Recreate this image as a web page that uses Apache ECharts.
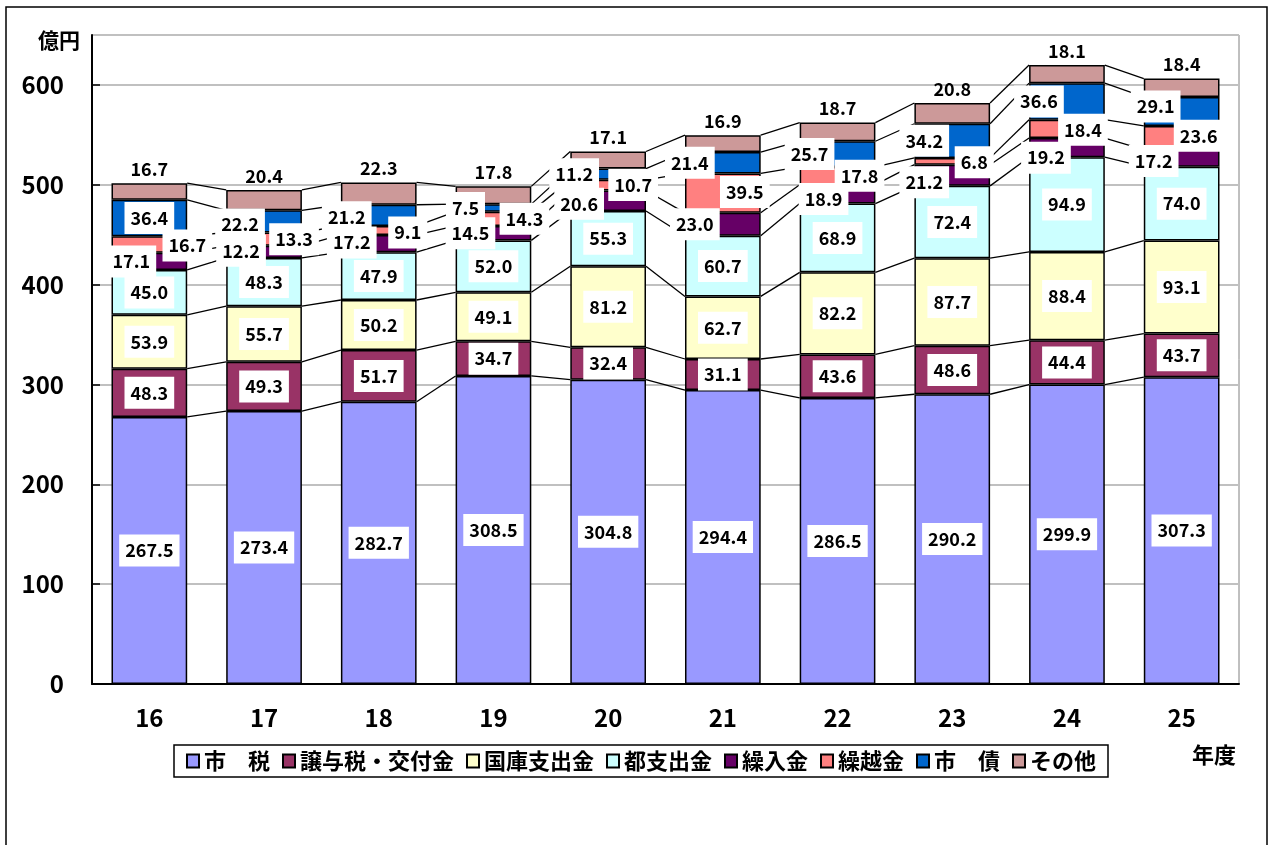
<!DOCTYPE html>
<html>
<head>
<meta charset="utf-8">
<script src="https://cdn.jsdelivr.net/npm/echarts@6/dist/echarts.min.js"></script>
<style>
  html, body { margin: 0; padding: 0; background: #fff; }
  #chart { width: 1269px; height: 845px; }
</style>
</head>
<body>
<div id="chart"></div>
<script>
const years = ['16', '17', '18', '19', '20', '21', '22', '23', '24', '25'];
const seriesNames = ['市　税', '譲与税・交付金', '国庫支出金', '都支出金', '繰入金', '繰越金', '市　債', 'その他'];

const cityTax = [267.5, 273.4, 282.7, 308.5, 304.8, 294.4, 286.5, 290.2, 299.9, 307.3];
const grants = [48.3, 49.3, 51.7, 34.7, 32.4, 31.1, 43.6, 48.6, 44.4, 43.7];
const national = [53.9, 55.7, 50.2, 49.1, 81.2, 62.7, 82.2, 87.7, 88.4, 93.1];
const metro = [45.0, 48.3, 47.9, 52.0, 55.3, 60.7, 68.9, 72.4, 94.9, 74.0];
const transfer = [17.1, 12.2, 17.2, 14.5, 20.6, 23.0, 18.9, 21.2, 19.2, 17.2];
const carryOver = [16.7, 13.3, 9.1, 14.3, 10.7, 39.5, 17.8, 6.8, 18.4, 23.6];
const bonds = [36.4, 22.2, 21.2, 7.5, 11.2, 21.4, 25.7, 34.2, 36.6, 29.1];
const others = [16.7, 20.4, 22.3, 17.8, 17.1, 16.9, 18.7, 20.8, 18.1, 18.4];

const yTicks = { min: 0, max: 650, interval: 100 };

// label shifts (px) for the thin segments, moved beside the bars
const transferShift = [[-18, 0], [-23, -1], [-27, -1], [-23, 0], [-29, 3], [-28, 0], [-14, 5], [-28, 7], [-21, 10], [-28, 3]];
const carryShift = [[38, 1], [30, 0], [29, 2], [31, 0], [25, 0], [22, -1], [22, 0], [22, 1], [16, 1], [17, -2]];
const bondShift = [[0, 0], [-24, 3], [-32, 2], [-28, 0], [-34, 0], [-33, 0], [-28, 0], [-28, 0], [-28, 0], [-26, -5]];

const colors = ['#9999FF', '#993366', '#FFFFCC', '#CCFFFF', '#660066', '#FF8080', '#0066CC', '#CC9999'];
const FONT = '"Noto Sans CJK JP", "Noto Sans", sans-serif';

const values = [cityTax, grants, national, metro, transfer, carryOver, bonds, others];
const shifts = [null, null, null, null, transferShift, carryShift, bondShift, null];

// cumulative tops for the series lines between bars
const cum = years.map((y, i) => {
  let s = 0;
  return values.map(arr => (s += arr[i]));
});
const seriesLineData = [];
for (let i = 0; i < years.length - 1; i++) {
  for (let k = 0; k < values.length; k++) {
    seriesLineData.push([i, cum[i][k], cum[i + 1][k]]);
  }
}

const labelBase = {
  show: true,
  color: '#000',
  fontFamily: FONT,
  fontSize: 18,
  fontWeight: 'bold',
  formatter: p => Number(p.value).toFixed(1)
};

const barSeries = values.map((arr, k) => {
  const isTop = k === values.length - 1;
  return {
    name: seriesNames[k],
    type: 'bar',
    stack: 'total',
    barWidth: '66%',
    itemStyle: { color: colors[k], borderColor: '#000', borderWidth: 1.5 },
    label: isTop
      ? Object.assign({}, labelBase, { position: 'top', distance: 5 })
      : Object.assign({}, labelBase, { position: 'inside', backgroundColor: '#fff', padding: [7, 6] }),
    data: arr.map((v, i) => shifts[k] ? { value: v, label: { offset: shifts[k][i] } } : v),
    z: 3
  };
});

const myChart = echarts.init(document.getElementById('chart'));

const option = {
  animation: false,
  backgroundColor: '#fff',
  graphic: [
    {
      type: 'rect',
      shape: { x: 6, y: 7, width: 1261, height: 1000 },
      style: { fill: 'none', stroke: '#000', lineWidth: 1.5 },
      z: -1
    },
    {
      type: 'text',
      left: 38,
      top: 30,
      style: { text: '億円', fontFamily: FONT, fontSize: 21, fontWeight: 'bold', fill: '#000' }
    },
    {
      type: 'text',
      left: 1192,
      top: 744,
      style: { text: '年度', fontFamily: FONT, fontSize: 22, fontWeight: 'bold', fill: '#000' }
    }
  ],
  legend: {
    data: seriesNames,
    left: 174,
    top: 745,
    padding: [5, 12],
    itemGap: 12,
    itemWidth: 12,
    itemHeight: 13,
    icon: 'rect',
    borderColor: '#000',
    borderWidth: 1.5,
    backgroundColor: '#fff',
    textStyle: { fontFamily: FONT, fontSize: 22, fontWeight: 'bold', color: '#000' }
  },
  grid: {
    left: 92,
    right: 30,
    top: 35,
    bottom: 161,
    show: true,
    borderColor: '#808080',
    borderWidth: 1
  },
  xAxis: {
    type: 'category',
    data: years,
    axisLine: { lineStyle: { color: '#000', width: 2 } },
    axisTick: { inside: true, length: 5, lineStyle: { color: '#000', width: 1.5 } },
    axisLabel: { margin: 22, color: '#000', fontFamily: FONT, fontSize: 24, fontWeight: 'bold' }
  },
  yAxis: {
    type: 'value',
    min: yTicks.min,
    max: yTicks.max,
    interval: yTicks.interval,
    axisLine: { show: true, lineStyle: { color: '#000', width: 2 } },
    axisTick: { show: true, inside: true, length: 8, lineStyle: { color: '#000', width: 1.5 } },
    axisLabel: { margin: 28, showMaxLabel: false, color: '#000', fontFamily: FONT, fontSize: 24, fontWeight: 'bold' },
    splitLine: { lineStyle: { color: '#c0c0c0', width: 2 } }
  },
  series: barSeries.concat([
    {
      type: 'custom',
      silent: true,
      z: 2,
      encode: { x: 0, y: [1, 2] },
      data: seriesLineData,
      renderItem: (params, api) => {
        const p1 = api.coord([api.value(0), api.value(1)]);
        const p2 = api.coord([api.value(0) + 1, api.value(2)]);
        const half = api.size([1, 0])[0] * 0.33;
        return {
          type: 'line',
          shape: { x1: p1[0] + half, y1: p1[1], x2: p2[0] - half, y2: p2[1] },
          style: { stroke: '#000', lineWidth: 1.3 }
        };
      }
    }
  ])
};

myChart.setOption(option);
window.addEventListener('resize', myChart.resize);
</script>
</body>
</html>
